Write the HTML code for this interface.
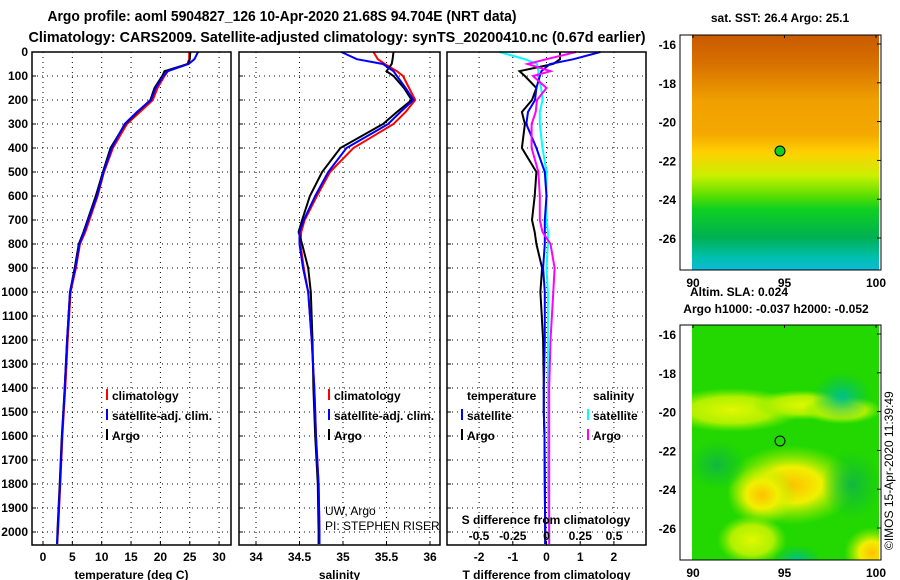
<!DOCTYPE html>
<html><head><meta charset="utf-8"><style>
body{margin:0;background:#fff;}
svg{display:block;font-family:"Liberation Sans",sans-serif;}
text{font-weight:bold;}
</style></head><body>
<svg id="c" width="900" height="580" viewBox="0 0 900 580">
<defs>
<linearGradient id="sstg" x1="0" y1="0" x2="0" y2="1">
<stop offset="0" stop-color="#c85a00"/><stop offset="0.12" stop-color="#d87000"/>
<stop offset="0.28" stop-color="#f0a000"/><stop offset="0.42" stop-color="#f4a800"/>
<stop offset="0.5" stop-color="#ffd000"/><stop offset="0.6" stop-color="#c8f000"/>
<stop offset="0.68" stop-color="#60e000"/><stop offset="0.74" stop-color="#10d020"/>
<stop offset="0.86" stop-color="#00b050"/><stop offset="0.95" stop-color="#00c0b0"/>
<stop offset="1" stop-color="#10b8d8"/></linearGradient>
<radialGradient id="yb"><stop offset="0" stop-color="#ffc000"/><stop offset="0.45" stop-color="#f0f000"/><stop offset="1" stop-color="#a0f000" stop-opacity="0"/></radialGradient>
<radialGradient id="yb2"><stop offset="0" stop-color="#e0f800"/><stop offset="0.6" stop-color="#b0f000"/><stop offset="1" stop-color="#80f000" stop-opacity="0"/></radialGradient>
<radialGradient id="cb"><stop offset="0" stop-color="#00c090"/><stop offset="1" stop-color="#00c060" stop-opacity="0"/></radialGradient>
<radialGradient id="gb"><stop offset="0" stop-color="#10b840"/><stop offset="1" stop-color="#10c030" stop-opacity="0"/></radialGradient>
</defs>
<text x="282" y="21" font-size="15" text-anchor="middle" textLength="469" lengthAdjust="spacingAndGlyphs">Argo profile: aoml 5904827_126 10-Apr-2020 21.68S 94.704E (NRT data)</text>
<text x="337" y="42" font-size="15" text-anchor="middle" textLength="617" lengthAdjust="spacingAndGlyphs">Climatology: CARS2009. Satellite-adjusted climatology: synTS_20200410.nc (0.67d earlier)</text>
<g id="plots"></g>
<g>
<text x="780" y="22" font-size="12" text-anchor="middle">sat. SST: 26.4 Argo: 25.1</text>
<rect x="692" y="35" width="187" height="235" fill="url(#sstg)"/>
<rect x="680" y="35" width="201" height="235" fill="none" stroke="#000"/>
<circle cx="780" cy="151" r="5" fill="#10d020" stroke="#000"/>
</g>
<g>
<text x="739" y="296" font-size="12" text-anchor="middle">Altim. SLA: 0.024</text>
<text x="776" y="313" font-size="12" text-anchor="middle">Argo h1000: -0.037 h2000: -0.052</text>
<svg x="692" y="325" width="187" height="235" overflow="hidden">
<rect x="0" y="0" width="187" height="235" fill="#22d800"/>
<ellipse cx="40" cy="85" rx="70" ry="22" fill="url(#yb2)"/>
<ellipse cx="110" cy="80" rx="50" ry="15" fill="url(#yb2)"/>
<ellipse cx="150" cy="85" rx="40" ry="14" fill="url(#yb2)"/>
<ellipse cx="100" cy="160" rx="65" ry="40" fill="url(#yb)"/>
<ellipse cx="70" cy="170" rx="35" ry="30" fill="url(#yb)"/>
<ellipse cx="60" cy="215" rx="35" ry="25" fill="url(#yb2)"/>
<ellipse cx="180" cy="228" rx="28" ry="26" fill="url(#yb)"/>
<ellipse cx="150" cy="72" rx="30" ry="25" fill="url(#cb)"/>
<ellipse cx="25" cy="140" rx="30" ry="25" fill="url(#gb)"/>
<ellipse cx="160" cy="160" rx="30" ry="35" fill="url(#gb)"/>
<ellipse cx="105" cy="235" rx="25" ry="15" fill="url(#cb)"/>
</svg>
<rect x="680" y="325" width="201" height="235" fill="none" stroke="#000"/>
<circle cx="780" cy="441" r="5" fill="none" stroke="#000"/>
<text transform="translate(893,550) rotate(-90)" font-size="12" style="font-weight:normal">©IMOS 15-Apr-2020 11:39:49</text>
</g>
<g id="maptk"></g>
</svg>
<script>
const depths=[0,30,50,80,100,150,200,250,300,400,500,600,700,750,800,900,1000,1200,1400,1500,1600,1800,2000,2050];
const tempClim=[24.9,24.9,24.6,21.3,20.7,19.5,18.7,16.5,14.3,11.9,10.4,9.3,7.9,7.2,6.3,5.6,4.7,4.2,3.8,3.55,3.3,2.95,2.55,2.4];
const tempSat=[26.4,25.8,24.8,21.2,20.5,19.2,18.4,16.0,13.9,11.7,10.3,9.2,7.7,7.0,6.2,5.5,4.6,4.1,3.7,3.5,3.25,2.9,2.5,2.4];
const tempArgo=[25.1,25.0,24.7,20.7,20.3,19.0,18.3,16.1,14.0,11.5,10.2,9.0,7.6,6.9,6.1,5.4,4.6,4.1,3.7,3.45,3.2,2.85,2.45,2.4];
const salClim=[35.35,35.40,35.48,35.62,35.69,35.76,35.83,35.72,35.58,35.12,34.85,34.70,34.56,34.52,34.51,34.55,34.60,34.64,34.67,34.68,34.69,34.72,34.73,34.73];
const salSat=[34.98,35.16,35.46,35.58,35.62,35.72,35.81,35.66,35.52,35.04,34.83,34.68,34.55,34.50,34.50,34.54,34.60,34.64,34.67,34.68,34.69,34.72,34.73,34.73];
const salArgo=[35.58,35.57,35.56,35.50,35.58,35.70,35.79,35.62,35.46,34.97,34.76,34.62,34.53,34.49,34.53,34.60,34.63,34.65,34.66,34.67,34.68,34.71,34.72,34.72];
const dTSat=[1.6,0.8,0.1,-0.15,-0.2,-0.3,-0.34,-0.55,-0.6,-0.3,-0.05,0.0,-0.05,-0.05,-0.05,-0.1,-0.05,-0.05,-0.08,-0.08,-0.06,-0.05,-0.04,-0.04];
const dTArgo=[0.4,0.4,0.2,-0.8,-0.64,-0.3,-0.43,-0.73,-0.64,-0.73,-0.3,-0.35,-0.43,-0.35,-0.3,-0.13,-0.18,-0.1,-0.08,-0.08,-0.06,-0.05,-0.04,-0.04];
const dSSat=[-0.35,-0.16,-0.07,-0.06,-0.06,-0.04,-0.03,-0.05,-0.05,-0.03,0.0,0.0,0.0,0.01,0.01,0.0,0.01,0.01,0.01,0.01,0.01,0.01,0.02,0.02];
const dSArgo=[0.22,0.0,-0.14,0.03,-0.1,0.0,-0.07,-0.08,-0.11,-0.11,-0.06,-0.05,-0.05,-0.03,0.03,0.06,0.05,0.03,0.02,0.02,0.02,0.02,0.02,0.02];
const depthTicks=[0,100,200,300,400,500,600,700,800,900,1000,1100,1200,1300,1400,1500,1600,1700,1800,1900,2000];
const tempTicks=[0,5,10,15,20,25,30];
const salTicks=[34,34.5,35,35.5,36];
const dTTicks=[-2,-1,0,1,2];
const dSTicks=[-0.5,-0.25,0,0.25,0.5];
const dSTickLabels=["-0.5","-0.25","0","0.25","0.5"];

const NS="http://www.w3.org/2000/svg";
const root=document.getElementById('plots');
const top0=52, bot=545;
const yD=d=>top0+d*0.24;
function el(tag,a,p){const e=document.createElementNS(NS,tag);for(const k in a)e.setAttribute(k,a[k]);(p||root).appendChild(e);return e;}
const panels=[
 {x0:32,x1:231,name:'temperature-panel',xs:v=>43+v*5.87,ticks:tempTicks,labels:tempTicks.map(String),title:'temperature (deg C)',grid:tempTicks},
 {x0:239,x1:440,name:'salinity-panel',xs:v=>256+(v-34)*87,ticks:salTicks,labels:salTicks.map(String),title:'salinity',grid:salTicks},
 {x0:447,x1:646,name:'difference-panel',xs:v=>546.5+v*33.7,ticks:dTTicks,labels:dTTicks.map(String),title:'T difference from climatology',grid:[-2,-1,0,1,2]}
];
panels.forEach((p,i)=>{
 const g=el('g',{});
 
 
 p.grid.forEach(v=>{const gl=el('line',{x1:p.xs(v),x2:p.xs(v),y1:top0,y2:bot,stroke:'#000','stroke-width':1,'stroke-dasharray':'1,4'},g);
  });
 depthTicks.forEach(d=>{const gl=el('line',{x1:p.x0,x2:p.x1,y1:yD(d),y2:yD(d),stroke:'#000','stroke-dasharray':'1,4'},g);
  
  el('line',{x1:p.x0,x2:p.x0+4,y1:yD(d),y2:yD(d),stroke:'#000'},g);});
 p.ticks.forEach((v,k)=>{el('line',{x1:p.xs(v),x2:p.xs(v),y1:bot,y2:bot-4,stroke:'#000'},g);
  const t=el('text',{x:p.xs(v),y:561,'font-size':12,'text-anchor':'middle'},g);t.textContent=p.labels[k];
  });
 const tt=el('text',{x:(p.x0+p.x1)/2,y:579,'font-size':12,'text-anchor':'middle'},g);tt.textContent=p.title;
 
});
depthTicks.forEach(d=>{const t=el('text',{x:28,y:yD(d)+4,'font-size':12,'text-anchor':'end'});t.textContent=d;
 });
function line(vals,xs,col,name,w){
 const pts=vals.map((v,i)=>xs(v).toFixed(1)+','+yD(depths[i]).toFixed(1)).join(' ');
 const pl=el('polyline',{points:pts,fill:'none',stroke:col,'stroke-width':w||2});
 
}
const P=panels, dS=v=>546.5+v*135;
line(tempClim,P[0].xs,'#f00','temp-climatology-line');
line(tempArgo,P[0].xs,'#000','temp-argo-line');
line(tempSat,P[0].xs,'#00f','temp-satellite-line');
line(salClim,P[1].xs,'#f00','salinity-climatology-line');
line(salArgo,P[1].xs,'#000','salinity-argo-line');
line(salSat,P[1].xs,'#00f','salinity-satellite-line');
line(dSSat,dS,'#00ffff','s-diff-satellite-line');
line(dTArgo,P[2].xs,'#000','t-diff-argo-line');
line(dTSat,P[2].xs,'#00f','t-diff-satellite-line');
line(dSArgo,dS,'#ff00ff','s-diff-argo-line');
panels.forEach(p=>{const r=el('rect',{x:p.x0,y:top0,width:p.x1-p.x0,height:bot-top0,fill:'none',stroke:'#000','stroke-width':1.5});
 });
const st=el('text',{x:546,y:524,'font-size':12,'text-anchor':'middle'});st.textContent='S difference from climatology';

dSTicks.forEach((v,k)=>{const t=el('text',{x:dS(v),y:540,'font-size':12,'text-anchor':'middle'});t.textContent=dSTickLabels[k];
 });
function legend(x,y,col,label){
 const g=el('g',{});
 el('rect',{x:x,y:y-11,width:2,height:11,fill:col},g);
 const t=el('text',{x:x+6,y:y,'font-size':12},g);t.textContent=label;
}
legend(106,400,'#f00','climatology');legend(106,420,'#00f','satellite-adj. clim.');legend(106,440,'#000','Argo');
legend(328,400,'#f00','climatology');legend(328,420,'#00f','satellite-adj. clim.');legend(328,440,'#000','Argo');
const th=el('text',{x:467,y:400,'font-size':12});th.textContent='temperature';

const sh=el('text',{x:593,y:400,'font-size':12});sh.textContent='salinity';

legend(461,420,'#00f','satellite');legend(461,440,'#000','Argo');
legend(587,420,'#00ffff','satellite');legend(587,440,'#ff00ff','Argo');
const c1=el('text',{x:325,y:515,'font-size':12});c1.textContent='UW, Argo';c1.style.fontWeight='normal';

const c2=el('text',{x:325,y:530,'font-size':12});c2.textContent='PI: STEPHEN RISER';c2.style.fontWeight='normal';

const mk=document.getElementById('maptk');
const lats=[-16,-18,-20,-22,-24,-26], lons=[90,95,100];
[35,325].forEach((oy,mi)=>{
 const ly=l=>oy+9+(-16-l)*19.4;
 lats.forEach(l=>{const t=el('text',{x:676,y:ly(l)+5,'font-size':12,'text-anchor':'end'},mk);t.textContent=l;
  
  el('line',{x1:877,x2:881,y1:ly(l),y2:ly(l),stroke:'#000'},mk);});
 lons.forEach(l=>{const x=693+(l-90)*18.3;
  const t=el('text',{x:x,y:oy+252,'font-size':12,'text-anchor':'middle'},mk);t.textContent=l;
  
  el('line',{x1:x,x2:x,y1:oy,y2:oy+3,stroke:'#000'},mk);});
});
</script>
</body></html>
